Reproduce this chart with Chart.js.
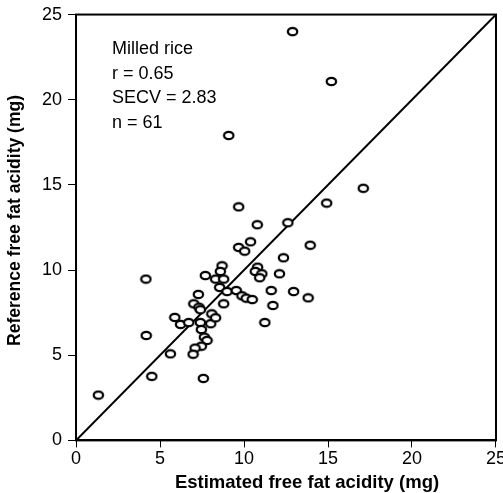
<!DOCTYPE html>
<html>
<head>
<meta charset="utf-8">
<script src="https://cdn.jsdelivr.net/npm/chart.js@4.4.1/dist/chart.umd.min.js"></script>
<style>
html,body{margin:0;padding:0;background:#fff;overflow:hidden;width:503px;height:493px;}
#wrap{width:507px;height:493px;position:relative;}
</style>
</head>
<body>
<div id="wrap"><canvas id="c"></canvas></div>
<script>
// Data
const estimated = [12.89,15.2,9.09,17.1,14.92,9.68,10.79,12.61,10.39,13.94,9.68,10.04,12.35,4.16,7.70,8.69,8.59,8.31,8.79,8.55,8.99,9.54,9.88,10.13,10.49,8.79,7.28,7.01,7.32,10.81,10.67,11.06,10.93,12.11,11.62,12.95,13.82,11.72,7.40,5.88,6.22,6.71,7.40,8.02,8.08,8.31,7.46,7.64,7.80,7.46,7.09,6.97,5.62,4.18,4.51,7.58,1.33,11.24];
const reference = [24.0,21.07,17.9,14.8,13.93,13.71,12.66,12.78,11.66,11.46,11.33,11.11,10.72,9.47,9.68,10.25,9.92,9.47,9.47,8.98,8.74,8.80,8.49,8.35,8.27,8.02,8.57,8.02,7.82,10.17,9.92,9.78,9.55,9.78,8.80,8.74,8.37,7.92,7.67,7.22,6.81,6.92,6.92,6.85,7.43,7.20,6.51,6.06,5.87,5.53,5.42,5.06,5.08,6.16,3.76,3.64,2.66,6.92];
const axisMin = 0, axisMax = 25, tickStep = 5;
const oneToOne = [axisMin, axisMax];
const annotationLines = ["Milled rice", "r = 0.65", "SECV = 2.83", "n = 61"];
const xTitle = "Estimated free fat acidity (mg)";
const yTitle = "Reference free fat acidity (mg)";

const FONT = "'Liberation Sans', Arial, Helvetica, sans-serif";

// ellipse marker
const mk = document.createElement('canvas');
mk.width = 13; mk.height = 11;
(function(){
  const g = mk.getContext('2d');
  g.beginPath();
  g.ellipse(6.5, 5.5, 4.7, 3.7, 0, 0, Math.PI*2);
  g.fillStyle = '#fff'; g.fill();
  g.lineWidth = 2.2; g.strokeStyle = '#000'; g.stroke();
})();

const pts = estimated.map((x,i)=>({x:x, y:reference[i]}));

const frame = {
  id:'frame',
  afterDatasetsDraw(chart){
    const {ctx, chartArea:a} = chart;
    ctx.save();
    ctx.lineWidth = 2; ctx.strokeStyle = '#000';
    ctx.strokeRect(a.left, a.top, a.right-a.left, a.bottom-a.top);
    ctx.restore();
  },
  afterDraw(chart){
    const {ctx, scales, chartArea:a} = chart;
    ctx.save();
    ctx.fillStyle = '#000';
    ctx.font = "18px " + FONT;
    ctx.textBaseline = 'middle';
    ctx.textAlign = 'left';
    const x0 = scales.x.getPixelForValue(2.14);
    const y0 = scales.y.getPixelForValue(22.95);
    annotationLines.forEach((t,i)=>{ ctx.fillText(t, x0, y0 + i*24.5); });
    // axis titles
    ctx.textAlign = 'center';
    ctx.font = "bold 18.5px " + FONT;
    ctx.fillText(xTitle, (a.left + a.right)/2 + 21, 483);
    ctx.translate(15.5, (a.top + a.bottom)/2 - 7);
    ctx.rotate(-Math.PI/2);
    ctx.font = "bold 17.5px " + FONT;
    ctx.fillText(yTitle, 0, 0);
    ctx.restore();
  }
};

new Chart(document.getElementById('c'), {
  type:'scatter',
  data:{
    datasets:[
      {
        type:'line',
        data: oneToOne.map(v=>({x:v,y:v})),
        borderColor:'#000', borderWidth:2, pointRadius:0, fill:false, order:2
      },
      {
        data: pts,
        pointStyle: mk,
        pointRadius: 5,
        order:1
      }
    ]
  },
  options:{
    responsive:true, maintainAspectRatio:false, animation:false,
    devicePixelRatio:1,
    layout:{padding:{top:0,left:36,right:0,bottom:22}},
    plugins:{legend:{display:false}, tooltip:{enabled:false}},
    scales:{
      x:{
        type:'linear', min:axisMin, max:axisMax,
        ticks:{stepSize:tickStep, color:'#000', font:{family:FONT,size:18,lineHeight:1.2}, padding:1, maxRotation:0},
        grid:{display:true, drawOnChartArea:false, drawTicks:true, tickLength:7, color:'#000', lineWidth:1},
        border:{display:true, color:'#000', width:2},
        title:{display:false, text:xTitle}
      },
      y:{
        type:'linear', min:axisMin, max:axisMax,
        ticks:{stepSize:tickStep, color:'#000', font:{family:FONT,size:18,lineHeight:0.95}, padding:6},
        grid:{display:true, drawOnChartArea:false, drawTicks:true, tickLength:8, color:'#000', lineWidth:1},
        border:{display:true, color:'#000', width:2},
        title:{display:false, text:yTitle}
      }
    }
  },
  plugins:[frame]
});
</script>
</body>
</html>
